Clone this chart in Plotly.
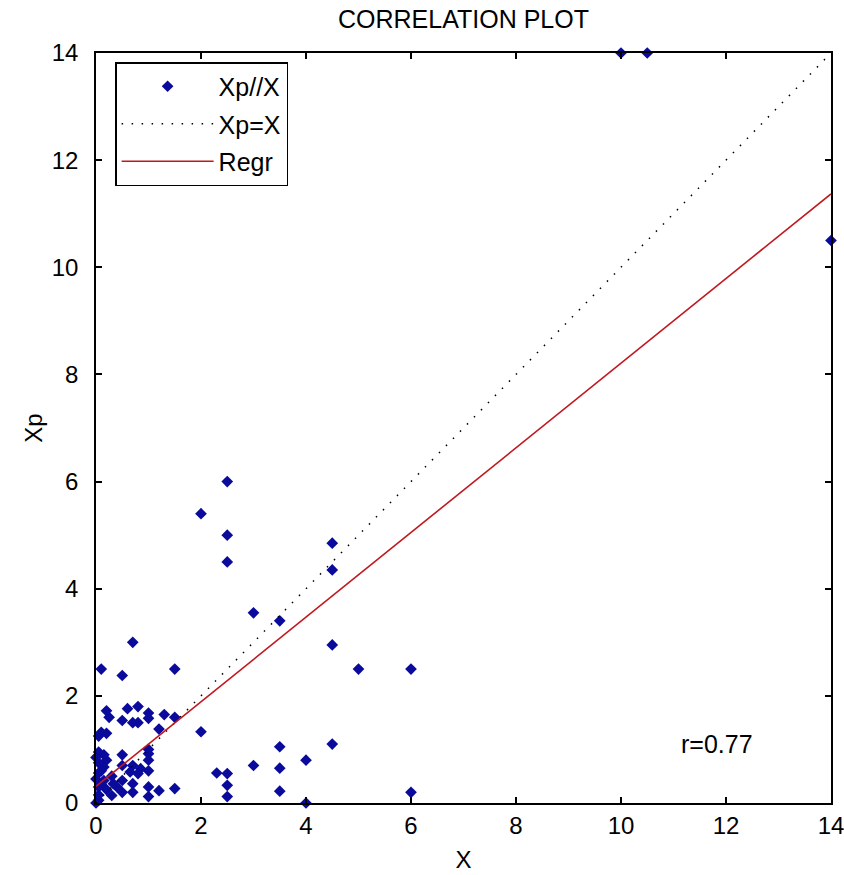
import plotly.graph_objects as go

# Observed vs. predicted values
x_obs = [10, 10.5, 14,
         6, 6, 5, 4.5, 4.5, 4.5, 4.5,
         4, 4, 3.5, 3.5, 3.5, 3.5,
         3, 3, 2.5, 2.5, 2.5, 2.5, 2.5, 2.5,
         2.3, 2, 2,
         1.5, 1.5, 1.5, 1.3, 1.2, 1.2,
         1, 1, 1, 1, 1, 1, 1, 1,
         0.8, 0.8, 0.85, 0.8,
         0.7, 0.7, 0.7, 0.7, 0.65, 0.7,
         0.6, 0.5, 0.5, 0.5, 0.5, 0.5, 0.5,
         0.4, 0.33, 0.3, 0.3,
         0.25, 0.2, 0.2, 0.2, 0.2, 0.15, 0.15, 0.15,
         0.1, 0.1, 0.1, 0.1,
         0.05, 0.05, 0.05, 0.05, 0.05, 0.05, 0, 0, 0, 0.05]
xp_pred = [14, 14, 10.5,
           2.5, 0.2, 2.5, 4.85, 4.35, 2.95, 1.1,
           0.8, 0.0, 3.4, 1.05, 0.65, 0.22,
           3.55, 0.7, 6.0, 5.0, 4.5, 0.55, 0.33, 0.12,
           0.56, 5.4, 1.33,
           2.5, 1.6, 0.27, 1.65, 1.38, 0.23,
           1.68, 1.58, 1.0, 0.92, 0.8, 0.6, 0.3, 0.12,
           1.8, 1.5, 0.64, 0.55,
           3.0, 1.5, 0.7, 0.36, 0.58, 0.2,
           1.76, 2.38, 1.54, 0.9, 0.42, 0.2, 0.7,
           0.3, 0.36, 0.14, 0.5,
           1.6, 1.72, 1.3, 0.8, 0.25, 0.67, 0.42, 0.9,
           2.5, 1.32, 0.6, 0.35,
           1.25, 0.95, 0.75, 0.56, 0.3, 0.05, 0, 0.45, 0.85, 0.15]

# Identity line and fitted regression line
ident_x = [0, 14]
ident_y = [0, 14]
regr_x = [0, 14]
regr_y = [0.31, 11.37]
r_value = 0.77

x_ticks = [0, 2, 4, 6, 8, 10, 12, 14]
y_ticks = [0, 2, 4, 6, 8, 10, 12, 14]

FONT = "Liberation Sans, Arial, sans-serif"

fig = go.Figure()
fig.add_trace(go.Scatter(
    x=x_obs, y=xp_pred, mode="markers", name="Xp//X",
    marker=dict(symbol="diamond", size=9, color="#0a0a9c"),
    cliponaxis=False, legendgroup="a"))
fig.add_trace(go.Scatter(
    x=ident_x, y=ident_y, mode="lines", name="Xp=X",
    line=dict(color="black", width=1.5, dash="1.5px,8.5px"),
    legendgroup="b"))
fig.add_trace(go.Scatter(
    x=regr_x, y=regr_y, mode="lines", name="Regr",
    line=dict(color="#c0181e", width=1.6),
    legendgroup="c"))

fig.add_annotation(x=11.1, y=1.1, xref="x", yref="y", text=f"r={r_value:.2f}",
                   showarrow=False, xanchor="left", yanchor="middle",
                   font=dict(family=FONT, size=25, color="black"))

axis_common = dict(
    showgrid=False, zeroline=False, showline=True, linecolor="black",
    linewidth=1.5, mirror="ticks", ticks="inside", ticklen=6,
    tickcolor="black", tickwidth=1.5, automargin=False,
    ticklabeloverflow="allow",
    tickfont=dict(family=FONT, size=24, color="black"))

fig.update_layout(
    width=844, height=875,
    margin=dict(l=96, r=13, t=53, b=72),
    paper_bgcolor="white", plot_bgcolor="white",
    title=dict(text="CORRELATION PLOT", x=0.5, xref="paper",
               y=1 - 19 / 875, yref="container", yanchor="middle",
               font=dict(family=FONT, size=25, color="black")),
    xaxis=dict(range=[0, 14], tickvals=x_ticks,
               title=dict(text="X", standoff=14,
                          font=dict(family=FONT, size=24, color="black")),
               **axis_common),
    yaxis=dict(range=[0, 14], tickvals=y_ticks, ticklabelstandoff=11,
               title=dict(text="Xp", standoff=2,
                          font=dict(family=FONT, size=24, color="black")),
               **axis_common),
    legend=dict(x=0.026, y=0.988, xanchor="left", yanchor="top",
                bgcolor="white", bordercolor="black", borderwidth=1.5,
                font=dict(family=FONT, size=25, color="black"),
                itemwidth=92, traceorder="grouped", tracegroupgap=2),
    showlegend=True,
)

fig.write_html("out.html")
